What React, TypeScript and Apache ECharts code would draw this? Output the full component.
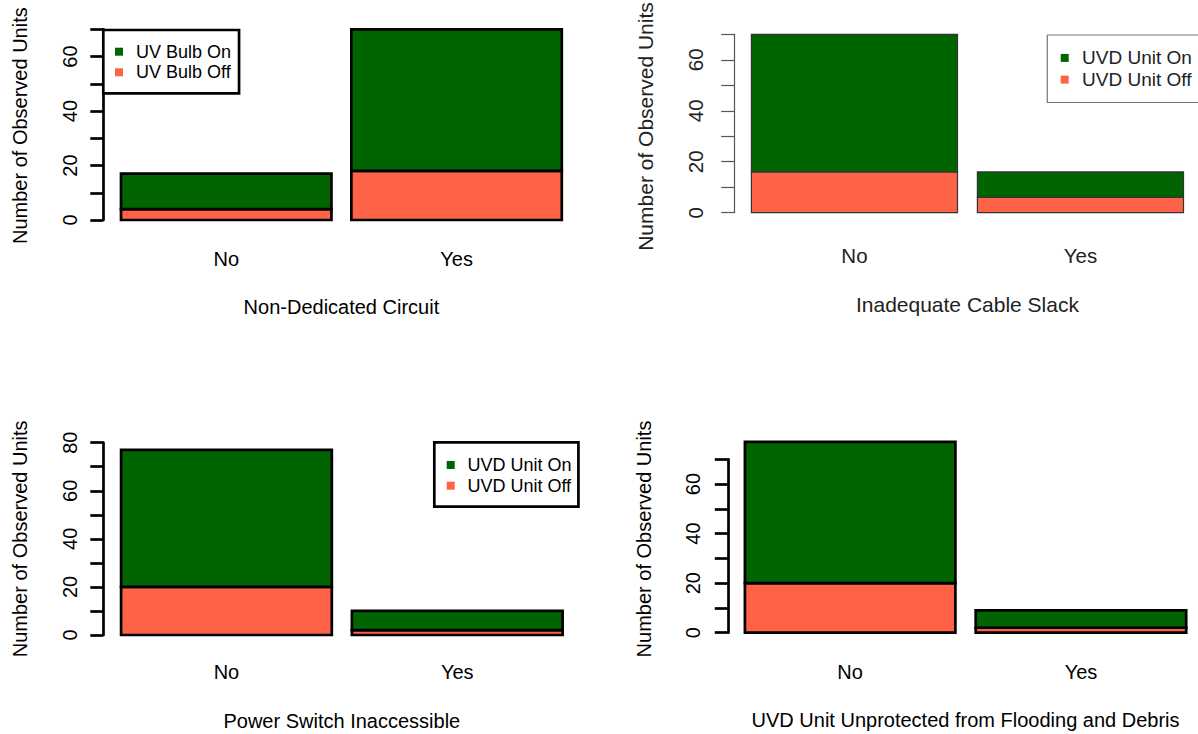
import React, { useEffect, useRef } from "react";
import * as echarts from "echarts";

// ---- data ----
const categories = ["No", "Yes"];
const xTitles = [
  "Non-Dedicated Circuit",
  "Inadequate Cable Slack",
  "Power Switch Inaccessible",
  "UVD Unit Unprotected from Flooding and Debris",
];
const yTitle = "Number of Observed Units";
const bulbNames = ["UV Bulb On", "UV Bulb Off"];
const unitNames = ["UVD Unit On", "UVD Unit Off"];

const offP1 = [4, 18];
const onP1 = [13, 52];
const offP2 = [16, 6];
const onP2 = [54, 10];
const offP3 = [20, 2];
const onP3 = [57, 8];
const offP4 = [20, 2];
const onP4 = [57, 7];
const yMaxes = [70, 70, 80, 70];

const GREEN = "#006400";
const TOMATO = "#FF6347";
const FONT = '"Liberation Sans", Arial, Helvetica, sans-serif';

type PanelCfg = {
  grid: { left: number; top: number; width: number; height: number };
  gap: number;
  yOffset: number;
  labelMargin: number;
  nameGap: number;
  yNamePad: number[];
  xLabelMargin: number;
  xNameGap: number;
  lineColor: string;
  barLine: string;
  lineWidth: number;
  textColor: string;
  fontSize: number;
  nameSize: number;
};

const panels: PanelCfg[] = [
  {
    grid: { left: 111.05, top: 29.3, width: 460.7, height: 190.7 },
    gap: 0.0864,
    yOffset: 7.75,
    labelMargin: 23.3,
    nameGap: 73.8,
    yNamePad: [0, 2, 0, 0],
    xLabelMargin: 29.3,
    xNameGap: 77.3,
    lineColor: "#000",
    barLine: "#000",
    lineWidth: 2.7,
    textColor: "#000",
    fontSize: 20,
    nameSize: 20,
  },
  {
    grid: { left: 741.45, top: 34.3, width: 452, height: 178.4 },
    gap: 0.088,
    yOffset: 7.25,
    labelMargin: 28.5,
    nameGap: 78.4,
    yNamePad: [0, 6, 0, 0],
    xLabelMargin: 32.3,
    xNameGap: 81.6,
    lineColor: "#555",
    barLine: "#333",
    lineWidth: 1.2,
    textColor: "#222",
    fontSize: 20.5,
    nameSize: 21,
  },
  {
    grid: { left: 111.05, top: 442.7, width: 461.6, height: 192.3 },
    gap: 0.087,
    yOffset: 7.75,
    labelMargin: 23.5,
    nameGap: 73.8,
    yNamePad: [0, 0, 0, 0],
    xLabelMargin: 27.3,
    xNameGap: 75.7,
    lineColor: "#000",
    barLine: "#000",
    lineWidth: 2.7,
    textColor: "#000",
    fontSize: 20,
    nameSize: 20,
  },
  {
    grid: { left: 734.75, top: 459.3, width: 461.6, height: 173.4 },
    gap: 0.088,
    yOffset: 6.95,
    labelMargin: 24.9,
    nameGap: 73.9,
    yNamePad: [0, 0, 0, 14],
    xLabelMargin: 29.6,
    xNameGap: 77.3,
    lineColor: "#000",
    barLine: "#000",
    lineWidth: 2.7,
    textColor: "#000",
    fontSize: 20,
    nameSize: 20,
  },
];

const offData = [offP1, offP2, offP3, offP4];
const onData = [onP1, onP2, onP3, onP4];
const panelNames = [bulbNames, unitNames, unitNames, unitNames];

function makeRenderItem(gap: number, fill: string, stroke: string, lw: number) {
  return (params: any, api: any) => {
    const x = api.value(0);
    const lo = api.value(1);
    const hi = api.value(2);
    const p0 = api.coord([x, lo]);
    const p1 = api.coord([x, hi]);
    const band = api.size([1, 0])[0];
    const bw = band * (1 - gap);
    return {
      type: "rect",
      shape: { x: p0[0] - bw / 2, y: p1[1], width: bw, height: p0[1] - p1[1] },
      style: { fill, stroke, lineWidth: lw },
    };
  };
}

function buildOption() {
  const grid: any[] = [];
  const xAxis: any[] = [];
  const yAxis: any[] = [];
  const series: any[] = [];
  panels.forEach((p, i) => {
    grid.push({ ...p.grid, containLabel: false });
    xAxis.push({
      type: "category",
      gridIndex: i,
      data: categories,
      axisLine: { show: false },
      axisTick: { show: false },
      axisLabel: {
        margin: p.xLabelMargin,
        fontSize: p.fontSize,
        fontFamily: FONT,
        color: p.textColor,
      },
      name: xTitles[i],
      nameLocation: "middle",
      nameGap: p.xNameGap,
      nameTextStyle: { fontSize: p.nameSize, fontFamily: FONT, color: p.textColor },
    });
    yAxis.push({
      type: "value",
      gridIndex: i,
      min: 0,
      max: yMaxes[i],
      interval: 10,
      offset: p.yOffset,
      splitLine: { show: false },
      axisLine: { show: true, lineStyle: { color: p.lineColor, width: p.lineWidth } },
      axisTick: { show: true, length: 13, lineStyle: { color: p.lineColor, width: p.lineWidth } },
      axisLabel: {
        rotate: 90,
        margin: p.labelMargin,
        fontSize: p.fontSize,
        fontFamily: FONT,
        color: p.textColor,
        formatter: (v: number) => (v % 20 === 0 ? String(v) : ""),
      },
      name: yTitle,
      nameLocation: "middle",
      nameRotate: 90,
      nameGap: p.nameGap,
      nameTextStyle: {
        fontSize: p.nameSize,
        fontFamily: FONT,
        color: p.textColor,
        padding: p.yNamePad,
      },
    });
    const off = offData[i];
    const on = onData[i];
    const offRows = categories.map((_, k) => [k, 0, off[k]]);
    const onRows = categories.map((_, k) => [k, off[k], off[k] + on[k]]);
    series.push({
      type: "custom",
      name: panelNames[i][1],
      xAxisIndex: i,
      yAxisIndex: i,
      data: offRows,
      encode: { x: 0, y: [1, 2] },
      itemStyle: { color: TOMATO },
      renderItem: makeRenderItem(p.gap, TOMATO, p.barLine, p.lineWidth),
    });
    series.push({
      type: "custom",
      name: panelNames[i][0],
      xAxisIndex: i,
      yAxisIndex: i,
      data: onRows,
      encode: { x: 0, y: [1, 2] },
      itemStyle: { color: GREEN },
      renderItem: makeRenderItem(p.gap, GREEN, p.barLine, p.lineWidth),
    });
  });

  const legendBase = {
    orient: "vertical",
    icon: "rect",
    itemWidth: 8,
    itemHeight: 8,
    selectedMode: false,
    borderRadius: 0,
    backgroundColor: "#fff",
    itemStyle: { borderWidth: 0 },
  };

  const legend = [
    {
      ...legendBase,
      data: bulbNames,
      left: 103.3,
      top: 30,
      padding: [11.7, 8, 11, 11.7],
      itemGap: 0.6,
      borderColor: "#000",
      borderWidth: 2.7,
      textStyle: { fontSize: 18, lineHeight: 20, fontFamily: FONT, color: "#000", padding: [0, 0, 0, 8] },
    },
    {
      ...legendBase,
      data: unitNames,
      left: 1047.3,
      top: 35,
      padding: [12.4, 60, 12.4, 13.4],
      itemGap: 0.7,
      borderColor: "#777",
      borderWidth: 1.2,
      textStyle: { fontSize: 19, lineHeight: 21, fontFamily: FONT, color: "#222", padding: [0, 0, 0, 8.4] },
    },
    {
      ...legendBase,
      data: unitNames,
      left: 434.3,
      top: 442.3,
      padding: [12.7, 7, 11, 12.4],
      itemGap: 0.7,
      borderColor: "#000",
      borderWidth: 2.7,
      textStyle: { fontSize: 18, lineHeight: 20, fontFamily: FONT, color: "#000", padding: [0, 0, 0, 7.7] },
    },
  ];

  return {
    animation: false,
    backgroundColor: "#fff",
    grid,
    xAxis,
    yAxis,
    series,
    legend,
  };
}

export default function App() {
  const ref = useRef<HTMLDivElement>(null);
  useEffect(() => {
    document.body.style.margin = "0";
    if (!ref.current) return;
    const chart = echarts.init(ref.current, undefined, { renderer: "svg" });
    chart.setOption(buildOption() as any);
    return () => chart.dispose();
  }, []);
  return <div ref={ref} style={{ width: 1198, height: 734 }} />;
}
